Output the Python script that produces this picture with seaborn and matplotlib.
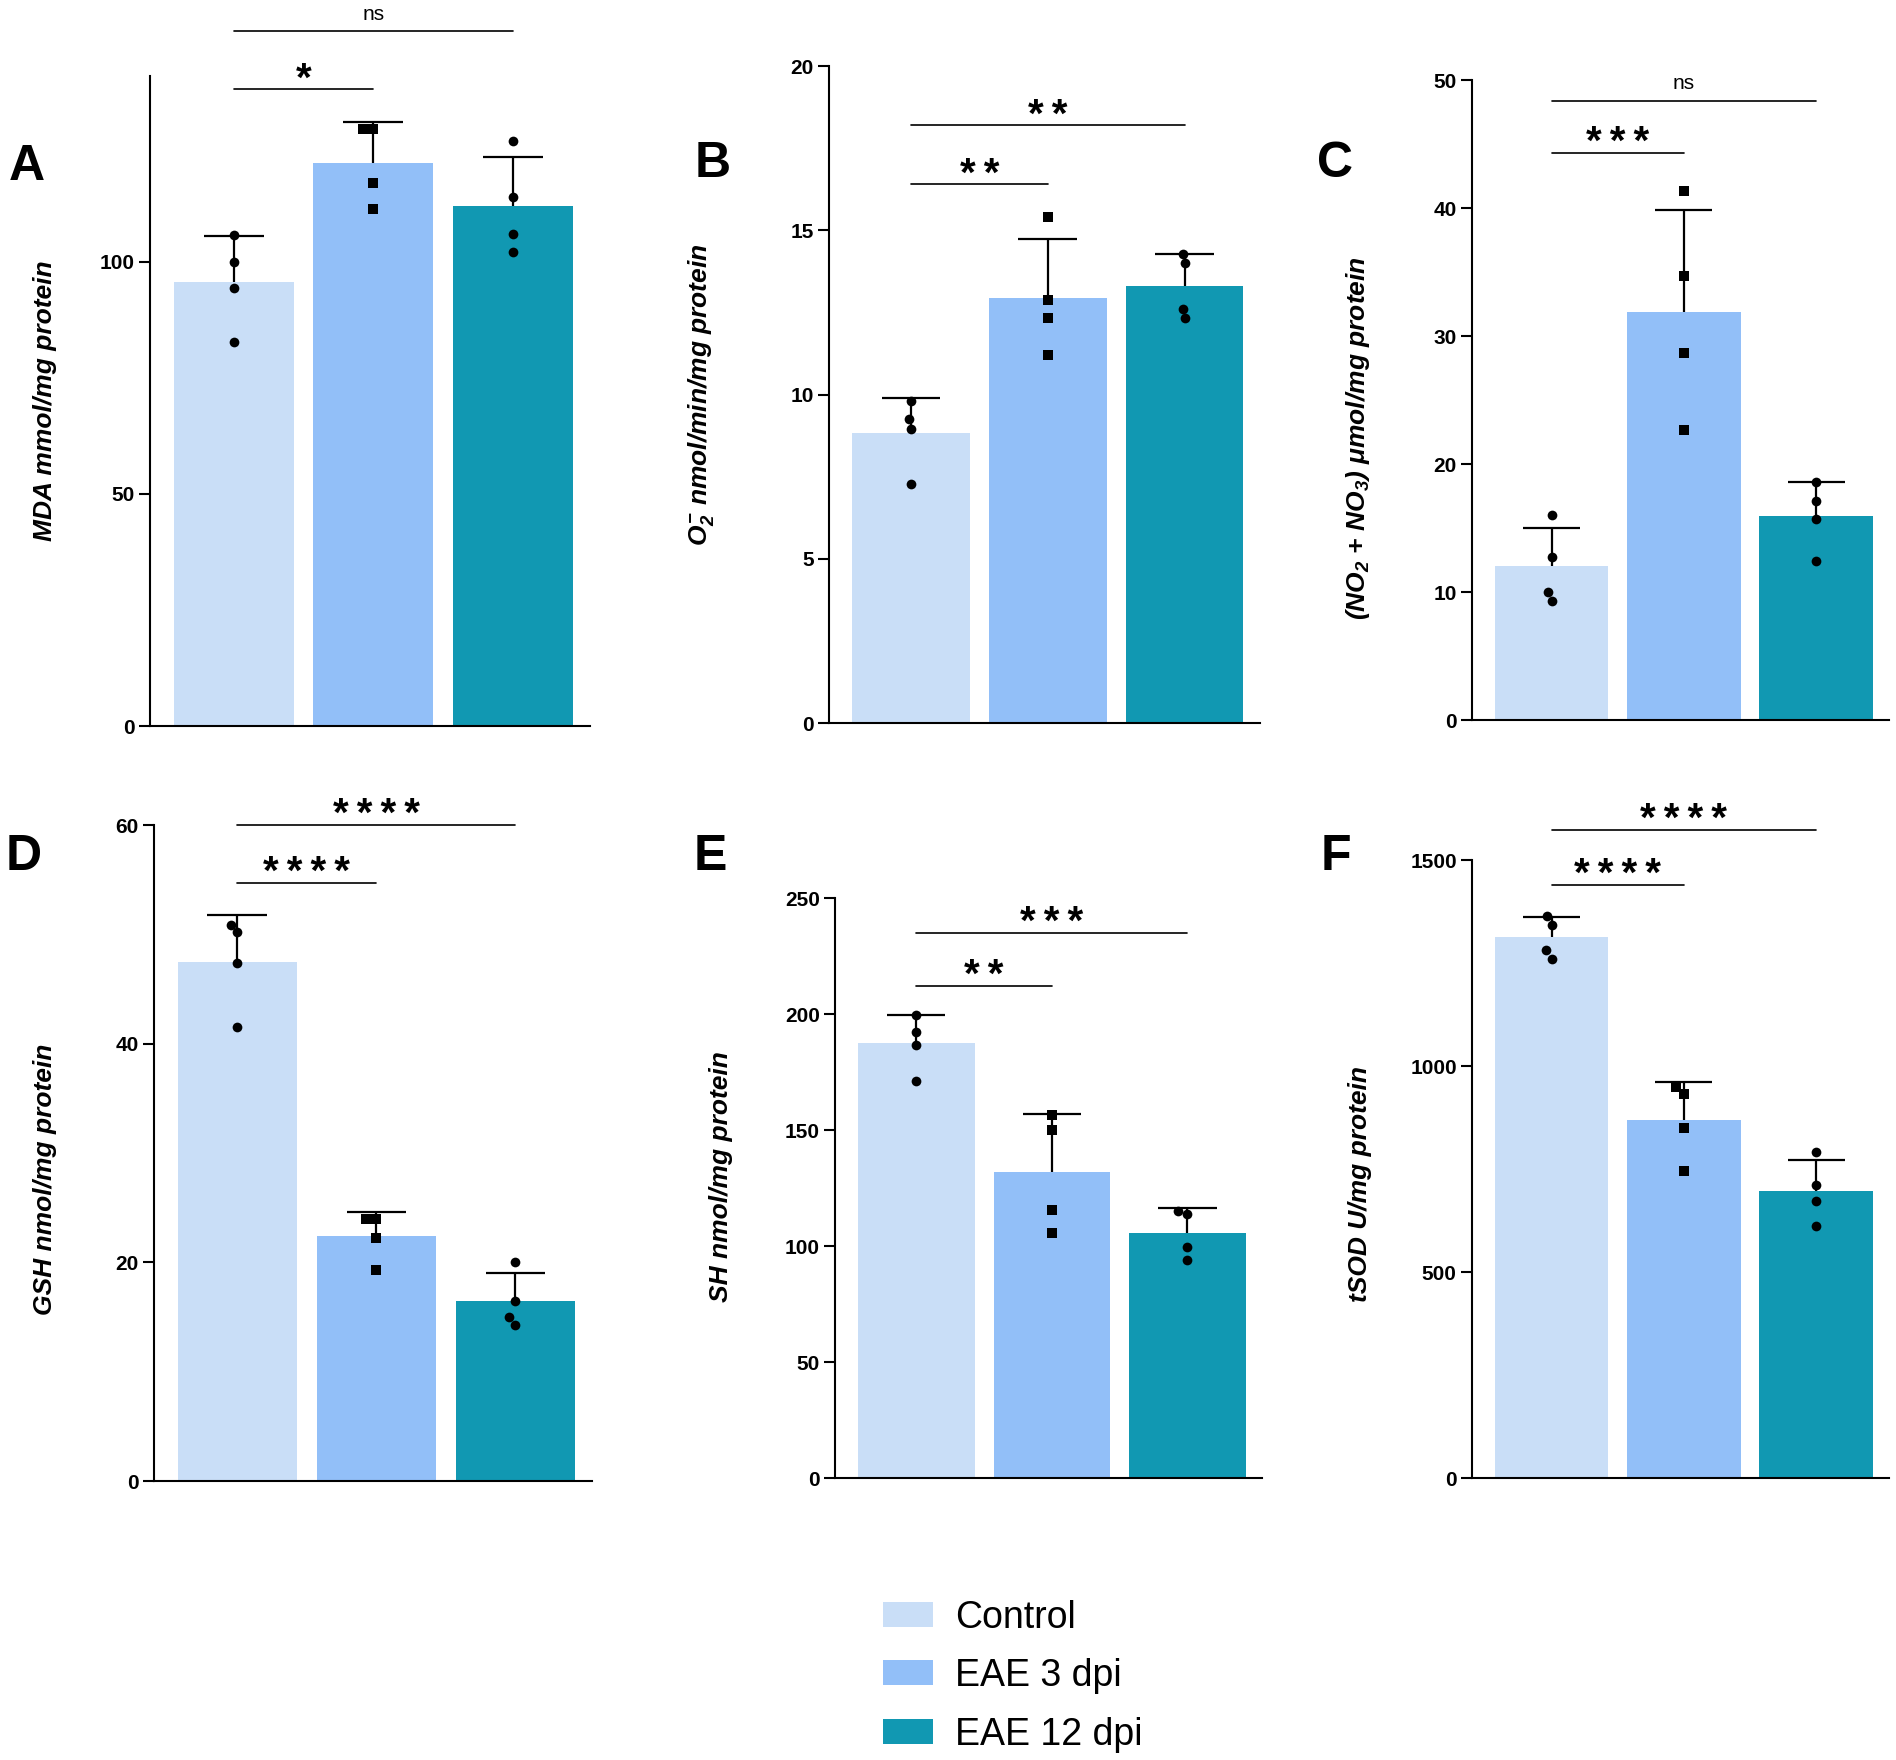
import numpy as np
import pandas as pd
import matplotlib
matplotlib.use("Agg")
import matplotlib.pyplot as plt
import seaborn as sns
from matplotlib.patches import Patch

# grupos y colores
groups = ["Control", "EAE 3 dpi", "EAE 12 dpi"]
colors = ["#c9def7", "#92bff8", "#1198b2"]
markers = ["o", "s", "o"]

# valores individuales (4 animales por grupo)
mda_ctrl = [105.8, 100.0, 94.3, 82.8]
mda_eae3 = [128.6, 128.6, 117.0, 111.3]
mda_eae12 = [126.0, 114.0, 106.0, 102.0]

o2_ctrl = [9.80, 9.25, 8.96, 7.28]
o2_eae3 = [15.41, 12.88, 12.32, 11.19]
o2_eae12 = [14.29, 14.00, 12.61, 12.32]

nox_ctrl = [15.98, 12.7, 10.0, 9.3]
nox_eae3 = [41.35, 34.7, 28.68, 22.67]
nox_eae12 = [18.6, 17.14, 15.7, 12.4]

gsh_ctrl = [50.9, 50.2, 47.4, 41.5]
gsh_eae3 = [24.0, 24.0, 22.2, 19.3]
gsh_eae12 = [20.0, 16.5, 15.0, 14.3]

sh_ctrl = [199.5, 192.5, 186.8, 171.0]
sh_eae3 = [156.7, 150.0, 115.6, 105.7]
sh_eae12 = [115.3, 114.0, 99.7, 94.0]

sod_ctrl = [1364, 1343, 1281, 1261]
sod_eae3 = [949, 933, 849, 746]
sod_eae12 = [791, 712, 672, 611]

# comparaciones vs Control: (grupo final, altura, etiqueta)
sig_a = [(1, 137.2, "*"), (2, 149.7, "ns")]
sig_b = [(1, 16.4, "**"), (2, 18.2, "**")]
sig_c = [(1, 44.3, "***"), (2, 48.4, "ns")]
sig_d = [(1, 54.7, "****"), (2, 60.0, "****")]
sig_e = [(1, 212.2, "**"), (2, 235.0, "***")]
sig_f = [(1, 1440, "****"), (2, 1574, "****")]

ylabels = ["MDA mmol/mg protein",
           r"$O_2^{-}$ nmol/min/mg protein",
           r"(NO$_2$ + NO$_3$) μmol/mg protein",
           "GSH nmol/mg protein",
           "SH nmol/mg protein",
           "tSOD U/mg protein"]
ylims = [140, 20, 50, 60, 250, 1500]
yticks = [[0, 50, 100], [0, 5, 10, 15, 20], [0, 10, 20, 30, 40, 50],
          [0, 20, 40, 60], [0, 50, 100, 150, 200, 250], [0, 500, 1000, 1500]]

sns.set_style("ticks")
plt.rcParams["font.family"] = ["Liberation Sans", "DejaVu Sans"]
plt.rcParams["text.color"] = "black"
plt.rcParams["axes.labelcolor"] = "black"
plt.rcParams["xtick.color"] = "black"
plt.rcParams["ytick.color"] = "black"
plt.rcParams["mathtext.fontset"] = "custom"
plt.rcParams["mathtext.rm"] = "Liberation Sans:italic:bold"
plt.rcParams["mathtext.it"] = "Liberation Sans:italic:bold"
plt.rcParams["mathtext.bf"] = "Liberation Sans:italic:bold"

fig = plt.figure(figsize=(18.96, 17.6), dpi=100)

panels = [
    ("A", [0.0791, 0.5875, 0.232, 0.3693], (-0.211, 0.50), (0.0142, 0.905),
     [mda_ctrl, mda_eae3, mda_eae12], sig_a),
    ("B", [0.4372, 0.5892, 0.2273, 0.3733], (-0.262, 0.50), (0.376, 0.907),
     [o2_ctrl, o2_eae3, o2_eae12], sig_b),
    ("C", [0.7764, 0.5909, 0.2200, 0.3636], (-0.240, 0.44), (0.704, 0.907),
     [nox_ctrl, nox_eae3, nox_eae12], sig_c),
    ("D", [0.0812, 0.1585, 0.2310, 0.3727], (-0.222, 0.46), (0.0127, 0.513),
     [gsh_ctrl, gsh_eae3, gsh_eae12], sig_d),
    ("E", [0.4404, 0.1602, 0.2252, 0.3295], (-0.240, 0.52), (0.3745, 0.513),
     [sh_ctrl, sh_eae3, sh_eae12], sig_e),
    ("F", [0.7764, 0.1602, 0.2200, 0.3511], (-0.240, 0.476), (0.7046, 0.513),
     [sod_ctrl, sod_eae3, sod_eae12], sig_f),
]

for i, (letter, rect, lab_xy, let_xy, vals, sig) in enumerate(panels):
    ax = fig.add_axes(rect)
    df = pd.DataFrame({"group": np.repeat(groups, 4),
                       "value": np.concatenate(vals)})

    sns.barplot(data=df, x="group", y="value", hue="group", order=groups,
                hue_order=groups, palette=colors, errorbar=None, width=0.86,
                saturation=1, legend=False, linewidth=0, ax=ax)

    # barras de error (media + DE, sólo hacia arriba)
    stats = df.groupby("group", sort=False)["value"].agg(["mean", "std"]).reindex(groups)
    xs = np.arange(len(groups))
    tops = stats["mean"] + stats["std"]
    ax.vlines(xs, stats["mean"], tops, color="black", lw=1.6, zorder=3)
    ax.hlines(tops, xs - 0.215, xs + 0.215, color="black", lw=1.6, zorder=3)

    # puntos individuales
    for g, m in zip(groups, markers):
        sns.swarmplot(data=df[df["group"] == g], x="group", y="value",
                      order=groups, marker=m, color="black", size=7,
                      ax=ax, zorder=4)

    # comparaciones
    for end, y, lab in sig:
        ax.plot([0, end], [y, y], color="black", lw=1.2, clip_on=False)
        if lab == "ns":
            ax.annotate(lab, xy=(end / 2, y), xytext=(0, 8), textcoords="offset points",
                        ha="center", va="baseline", fontsize=15, annotation_clip=False)
        else:
            ax.annotate("\u2009".join(lab), xy=(end / 2, y), xytext=(0, -1),
                        textcoords="offset points", ha="center", va="baseline",
                        fontsize=29, fontweight="bold", annotation_clip=False)

    ax.set_xlim(-0.6, 2.55)
    ax.set_ylim(0, ylims[i])
    ax.set_yticks(yticks[i])
    ax.set_xticks([])
    ax.set_xlabel("")
    ax.set_ylabel(ylabels[i], fontsize=19, fontweight="bold", fontstyle="italic")
    ax.yaxis.set_label_coords(*lab_xy)
    sns.despine(ax=ax)
    for s in ["left", "bottom"]:
        ax.spines[s].set_linewidth(1.5)
        ax.spines[s].set_color("black")
    ax.tick_params(axis="y", length=8, width=1.5, color="black", labelsize=15, pad=3)
    for t in ax.get_yticklabels():
        t.set_fontweight("bold")

    fig.text(let_xy[0], let_xy[1], letter, fontsize=36, fontweight="bold",
             ha="center", va="center")

handles = [Patch(facecolor=c, edgecolor="none", label=g) for g, c in zip(groups, colors)]
fig.legend(handles=handles, loc="center left", bbox_to_anchor=(0.4657, 0.0477),
           frameon=False, fontsize=27, handlelength=1.33, handleheight=0.65,
           handletextpad=0.6, labelspacing=0.6, borderpad=0, borderaxespad=0)

fig.savefig("out.png", dpi=100)
